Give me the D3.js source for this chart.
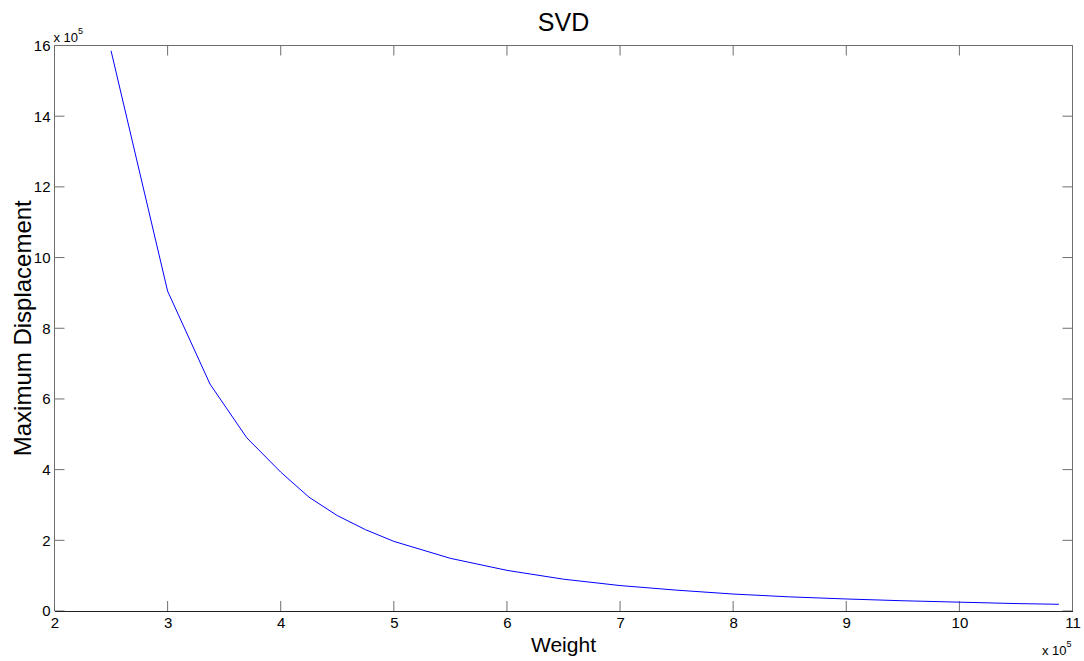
<!DOCTYPE html>
<html>
<head>
<meta charset="utf-8">
<script src="https://cdn.jsdelivr.net/npm/d3@7"></script>
<style>
  html, body { margin: 0; padding: 0; background: #fff; }
  svg { display: block; font-family: "Liberation Sans", Arial, Helvetica, sans-serif; }
</style>
</head>
<body>
<svg id="chart" width="1084" height="661"></svg>
<script>
// Weight values (raw) and the maximum displacement computed for each
const weight = [250000, 300000, 337500, 370000, 400000, 425000, 450000, 475000,
                500000, 550000, 600000, 650000, 700000, 750000, 800000, 850000,
                900000, 950000, 1000000, 1050000, 1088000];
const maxDisplacement = [1585000, 905000, 642000, 490000, 393000, 322000, 270000, 230000,
                         197000, 149000, 115000, 90000, 72000, 59000, 48000, 40000,
                         34000, 29000, 25000, 21000, 19000];
const xTicks = [2, 3, 4, 5, 6, 7, 8, 9, 10, 11];
const yTicks = [0, 2, 4, 6, 8, 10, 12, 14, 16];
const exponent = 5;
const titleText = "SVD";
const xLabelText = "Weight";
const yLabelText = "Maximum Displacement";

const scaleFactor = Math.pow(10, exponent);
const points = weight.map((w, i) => ({ x: w / scaleFactor, y: maxDisplacement[i] / scaleFactor }));

const margin = { left: 54.5, right: 1084 - 1072.5, top: 45.5, bottom: 661 - 611 };
const svg = d3.select("#chart");
const W = 1084, H = 661;
const x = d3.scaleLinear().domain([2, 11]).range([margin.left, W - margin.right]);
const y = d3.scaleLinear().domain([0, 16]).range([H - margin.bottom, margin.top]);

const tickLen = 10;
const axisGray = "#6e6e6e";

// Plot box
const g = svg.append("g");
g.append("line").attr("x1", x(2)).attr("x2", x(11)).attr("y1", y(16)).attr("y2", y(16))
  .attr("stroke", axisGray).attr("stroke-width", 1);
g.append("line").attr("x1", x(11)).attr("x2", x(11)).attr("y1", y(16)).attr("y2", y(0))
  .attr("stroke", axisGray).attr("stroke-width", 1);
g.append("line").attr("x1", x(2)).attr("x2", x(2)).attr("y1", y(16)).attr("y2", y(0))
  .attr("stroke", axisGray).attr("stroke-width", 1);

// Inward ticks on all four sides
const tickG = g.append("g").attr("stroke", axisGray).attr("stroke-width", 1);
xTicks.forEach(t => {
  tickG.append("line").attr("x1", x(t)).attr("x2", x(t)).attr("y1", y(0)).attr("y2", y(0) - tickLen);
  tickG.append("line").attr("x1", x(t)).attr("x2", x(t)).attr("y1", y(16)).attr("y2", y(16) + tickLen);
});
yTicks.forEach(t => {
  tickG.append("line").attr("x1", x(2)).attr("x2", x(2) + tickLen).attr("y1", y(t)).attr("y2", y(t));
  tickG.append("line").attr("x1", x(11)).attr("x2", x(11) - tickLen).attr("y1", y(t)).attr("y2", y(t));
});

// Bottom axis with labels
const xAxis = d3.axisBottom(x).tickValues(xTicks).tickSize(0).tickPadding(6).tickFormat(d3.format("d"));
const xAxisG = svg.append("g").attr("transform", `translate(0,${y(0)})`).call(xAxis);
xAxisG.select(".domain").attr("stroke", "#222");
xAxisG.selectAll("text").attr("font-size", 15).attr("fill", "#000")
  .attr("font-family", "Liberation Sans, Arial, sans-serif");

// Left axis labels
const yAxis = d3.axisLeft(y).tickValues(yTicks).tickSize(0).tickPadding(4).tickFormat(d3.format("d"));
const yAxisG = svg.append("g").attr("transform", `translate(${x(2)},0)`).call(yAxis);
yAxisG.select(".domain").remove();
yAxisG.selectAll("text").attr("font-size", 15).attr("fill", "#000")
  .attr("font-family", "Liberation Sans, Arial, sans-serif");

// Exponent multipliers
function multiplier(px, py) {
  const t = svg.append("text").attr("x", px).attr("y", py)
    .attr("font-size", 13).attr("fill", "#000");
  t.append("tspan").text("x 10");
  t.append("tspan").attr("dy", -8).attr("font-size", 9).text(String(exponent));
}
multiplier(x(2) - 1, y(16) - 4);
multiplier(1042, 655);

// Data line
const line = d3.line().x(d => x(d.x)).y(d => y(d.y));
svg.append("path").datum(points).attr("d", line)
  .attr("fill", "none").attr("stroke", "#0000ff").attr("stroke-width", 1);

// Title and axis titles
svg.append("text").attr("x", (x(2) + x(11)) / 2).attr("y", 31)
  .attr("text-anchor", "middle").attr("font-size", 25).attr("fill", "#000").text(titleText);
svg.append("text").attr("x", (x(2) + x(11)) / 2).attr("y", 652)
  .attr("text-anchor", "middle").attr("font-size", 21).attr("fill", "#000").text(xLabelText);
svg.append("text")
  .attr("transform", `translate(31,${(y(0) + y(16)) / 2}) rotate(-90)`)
  .attr("text-anchor", "middle").attr("font-size", 24).attr("fill", "#000").text(yLabelText);
</script>
</body>
</html>
